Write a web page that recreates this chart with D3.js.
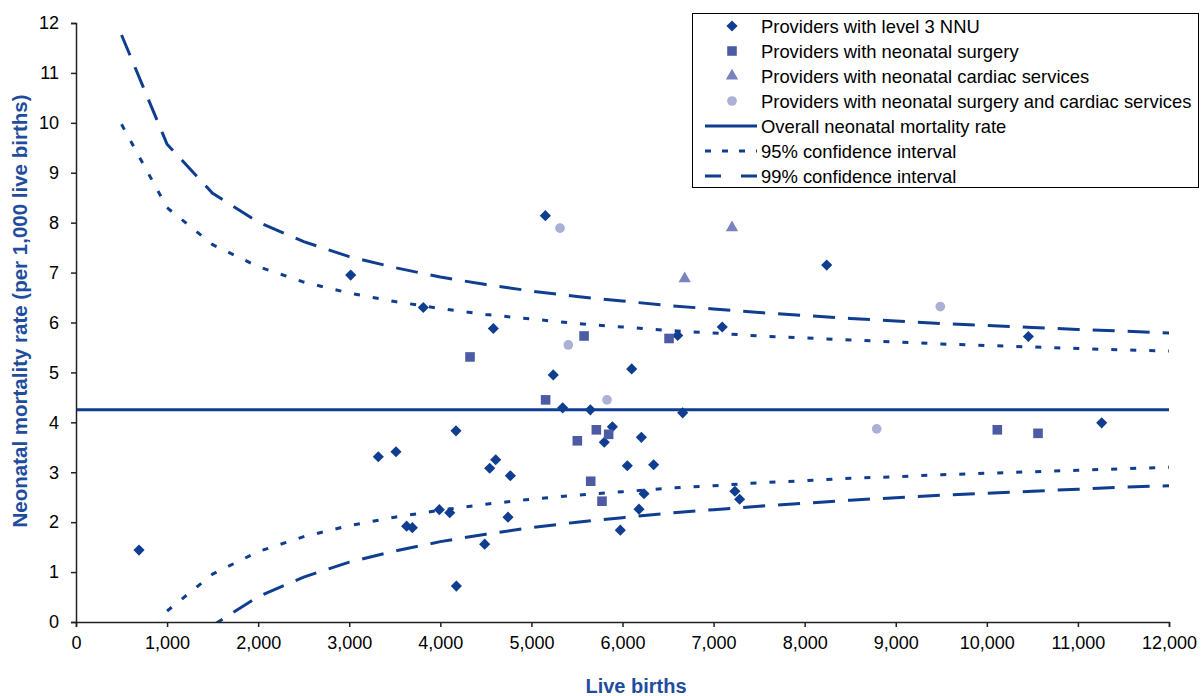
<!DOCTYPE html>
<html>
<head>
<meta charset="utf-8">
<script src="https://cdn.jsdelivr.net/npm/d3@7"></script>
<style>
  body { margin: 0; background: #fff; }
  svg { font-family: "Liberation Sans", Arial, sans-serif; }
</style>
</head>
<body>
<div id="chart"></div>
<script>
// [live births, rate per 1,000]
const level3 = [
  [692, 1.44], [3016, 6.95], [3813, 6.30], [4582, 5.88], [5153, 8.14], [5240, 4.95],
  [6101, 5.07], [6606, 5.74], [7095, 5.91], [8242, 7.15], [10456, 5.72], [5343, 4.29],
  [5647, 4.25], [6661, 4.19], [4172, 3.83], [5889, 3.91], [5800, 3.60], [6207, 3.70],
  [3319, 3.31], [3513, 3.41], [4608, 3.25], [4542, 3.08], [4769, 2.93], [6053, 3.13],
  [6342, 3.15], [6236, 2.57], [6181, 2.26], [7234, 2.62], [7286, 2.46], [3989, 2.25],
  [4103, 2.19], [4743, 2.10], [3630, 1.92], [3693, 1.89], [4487, 1.56], [5976, 1.84],
  [4176, 0.72], [11261, 3.99]
];
const surgery = [
  [4326, 5.31], [5578, 5.73], [6511, 5.68], [5156, 4.45], [5713, 3.85], [5848, 3.76],
  [5504, 3.63], [5651, 2.82], [5775, 2.42], [10115, 3.85], [10562, 3.78]
];
const cardiac = [[6683, 6.88], [7202, 7.90]];
const both = [[5314, 7.89], [5405, 5.55], [5830, 4.45], [8791, 3.87], [9489, 6.32]];

const overallRate = 4.25;

// funnel limits
const ciBirths = [500, 1000, 1500, 2000, 2500, 3000, 3500, 4000, 4500, 5000, 5500, 6000,
  6500, 7000, 7500, 8000, 8500, 9000, 9500, 10000, 10500, 11000, 11500, 12000];
const upper95 = [9.97, 8.30, 7.56, 7.12, 6.81, 6.59, 6.42, 6.28, 6.16, 6.07, 5.98, 5.91,
  5.84, 5.79, 5.73, 5.69, 5.65, 5.61, 5.57, 5.54, 5.51, 5.48, 5.45, 5.43];
const lower95 = [-1.45, 0.22, 0.96, 1.41, 1.71, 1.93, 2.10, 2.24, 2.36, 2.46, 2.54, 2.61,
  2.68, 2.73, 2.79, 2.83, 2.88, 2.91, 2.95, 2.98, 3.01, 3.04, 3.07, 3.10];
const upper99 = [11.76, 9.57, 8.59, 8.01, 7.62, 7.32, 7.10, 6.91, 6.76, 6.63, 6.52, 6.43,
  6.34, 6.27, 6.20, 6.14, 6.08, 6.03, 5.98, 5.94, 5.90, 5.86, 5.83, 5.79];
const lower99 = [-3.24, -1.05, -0.07, 0.51, 0.90, 1.20, 1.42, 1.61, 1.76, 1.89, 2.00, 2.09,
  2.18, 2.25, 2.32, 2.38, 2.44, 2.49, 2.54, 2.58, 2.62, 2.66, 2.70, 2.73];

const xTicks = d3.range(0, 12001, 1000);
const yTicks = d3.range(0, 13, 1);

const legendItems = [
  { label: "Providers with level 3 NNU", kind: "diamond" },
  { label: "Providers with neonatal surgery", kind: "square" },
  { label: "Providers with neonatal cardiac services", kind: "triangle" },
  { label: "Providers with neonatal surgery and cardiac services", kind: "circle" },
  { label: "Overall neonatal mortality rate", kind: "solid" },
  { label: "95% confidence interval", kind: "dot" },
  { label: "99% confidence interval", kind: "dash" }
];

const width = 1201, height = 696;
const margin = { top: 23, right: 32, bottom: 74, left: 76 };

const navy = "#0f3d8f";
const colors = { diamond: "#0f3d8f", square: "#4d5ba5", triangle: "#7b83bf", circle: "#aab0d6" };
const dashes = { solid: null, dot: "6,13", dash: "22,13" };

const svg = d3.select("#chart").append("svg")
  .attr("width", width)
  .attr("height", height);

const x = d3.scaleLinear().domain([0, 12000]).range([margin.left, width - margin.right]);
const y = d3.scaleLinear().domain([0, 12]).range([height - margin.bottom, margin.top]);

svg.append("clipPath").attr("id", "plot")
  .append("rect")
  .attr("x", margin.left).attr("y", margin.top)
  .attr("width", x(12000) - margin.left)
  .attr("height", y(0) - margin.top);

// lines
const line = d3.line().x(d => x(d[0])).y(d => y(d[1]));
const lines = svg.append("g").attr("clip-path", "url(#plot)")
  .attr("fill", "none").attr("stroke", navy).attr("stroke-width", 3);

lines.append("path").attr("d", line([[0, overallRate], [12000, overallRate]]));
[upper95, lower95].forEach(s => {
  lines.append("path").attr("d", line(ciBirths.map((b, i) => [b, s[i]])))
    .attr("stroke-dasharray", dashes.dot);
});
[upper99, lower99].forEach(s => {
  lines.append("path").attr("d", line(ciBirths.map((b, i) => [b, s[i]])))
    .attr("stroke-dasharray", dashes.dash);
});

// axes
const xAxis = svg.append("g")
  .attr("transform", `translate(0,${y(0)})`)
  .call(d3.axisBottom(x).tickValues(xTicks).tickSize(5).tickPadding(9)
    .tickFormat(d3.format(",")));
const yAxis = svg.append("g")
  .attr("transform", `translate(${margin.left},0)`)
  .call(d3.axisLeft(y).tickValues(yTicks).tickSize(5).tickPadding(12));

[xAxis, yAxis].forEach(a => {
  a.select(".domain").attr("stroke", "#222").attr("stroke-width", 1.5);
  a.selectAll(".tick line").attr("stroke", "#222").attr("stroke-width", 1.5);
  a.selectAll("text").attr("font-size", 18).attr("fill", "#000")
    .attr("font-family", "Liberation Sans, Arial, sans-serif");
});

// markers
const symbolPath = {
  diamond: d3.symbol().type(d3.symbolSquare).size(62)(),
  square: d3.symbol().type(d3.symbolSquare).size(92)(),
  triangle: d3.symbol().type(d3.symbolTriangle).size(66)(),
  circle: d3.symbol().type(d3.symbolCircle).size(74)()
};
const rot = { diamond: " rotate(45)", square: "", triangle: "", circle: "" };

function drawSeries(data, kind) {
  svg.append("g").selectAll("path")
    .data(data)
    .join("path")
    .attr("d", symbolPath[kind])
    .attr("transform", d => `translate(${x(d[0])},${y(d[1])})${rot[kind]}`)
    .attr("fill", colors[kind]);
}
drawSeries(level3, "diamond");
drawSeries(surgery, "square");
drawSeries(cardiac, "triangle");
drawSeries(both, "circle");

// axis titles
svg.append("text")
  .attr("x", 636).attr("y", 693)
  .attr("text-anchor", "middle")
  .attr("font-size", 20).attr("font-weight", "bold").attr("fill", "#1f4d9e")
  .text("Live births");

svg.append("text")
  .attr("transform", "translate(27,311) rotate(-90)")
  .attr("text-anchor", "middle")
  .attr("font-size", 20.5).attr("font-weight", "bold").attr("fill", "#1f4d9e")
  .text("Neonatal mortality rate (per 1,000 live births)");

// legend
const legend = svg.append("g");
legend.append("rect")
  .attr("x", 692.5).attr("y", 13.5)
  .attr("width", 506).attr("height", 174)
  .attr("fill", "#fff").attr("stroke", "#000").attr("stroke-width", 1);

legendItems.forEach((it, i) => {
  const cy = 26 + i * 25;
  if (symbolPath[it.kind]) {
    legend.append("path")
      .attr("d", symbolPath[it.kind])
      .attr("transform", `translate(732,${cy})${rot[it.kind]}`)
      .attr("fill", colors[it.kind]);
  } else {
    legend.append("line")
      .attr("x1", 705).attr("x2", 757).attr("y1", cy).attr("y2", cy)
      .attr("stroke", navy).attr("stroke-width", 3)
      .attr("stroke-dasharray", it.kind === "dot" ? "6,11" : it.kind === "dash" ? "16,20" : null);
  }
  legend.append("text")
    .attr("x", 761).attr("y", cy + 6.5)
    .attr("font-size", 18.4).attr("fill", "#000")
    .text(it.label);
});
</script>
</body>
</html>
